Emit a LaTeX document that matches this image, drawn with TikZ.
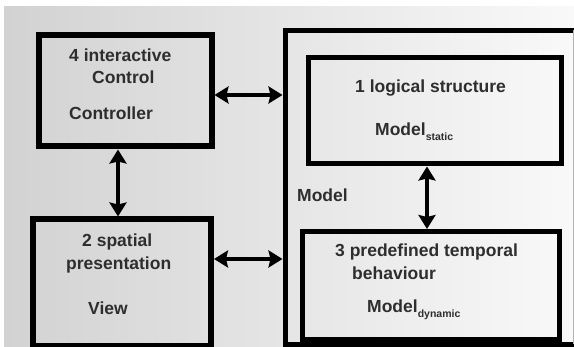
\documentclass[tikz,border=0pt]{standalone}
\usepackage{fontspec}
\setmainfont{Liberation Sans}
\usetikzlibrary{arrows.meta}
\definecolor{bgleft}{RGB}{210,210,210}
\definecolor{bgright}{RGB}{249,249,249}
\newcommand{\subtxt}[1]{\raisebox{-5pt}{\fontsize{10.5}{12}\selectfont #1}}
\begin{document}
\begin{tikzpicture}[x=1pt,y=-1pt,
  box/.style={draw=black, line width=#1, inner sep=0pt, anchor=north west},
  box/.default=5pt,
  link/.style={line width=4.5pt,
    {Stealth[length=14pt,width=17pt,inset=2pt]}-{Stealth[length=14pt,width=17pt,inset=2pt]}},
  lbl/.style={anchor=base west, inner sep=0pt, text=black!82,
    font=\fontsize{17.5}{20}\selectfont\bfseries},
]
\useasboundingbox (0,0) rectangle (574,347);
% background panel
\shade[left color=bgleft, right color=bgright] (4,7) rectangle (574,347);

% component boxes
\node[box=6pt, minimum width=172.5pt, minimum height=111pt] (ctrl) at (36,32.5) {};
\node[box=6pt, minimum width=178.5pt, minimum height=126.5pt] (view) at (29.5,216.5) {};
\node[box, minimum width=253pt, minimum height=106pt] (logic) at (305.5,55.5) {};
\node[box, minimum width=256.5pt, minimum height=108.5pt] (temporal) at (300,229) {};

% model frame (open towards the right edge)
\node[draw=none, inner sep=0pt, outer sep=0pt, anchor=north west,
      minimum width=288.5pt, minimum height=314pt] (model) at (285,30.5) {};
\draw[line width=5pt] (model.north east) -- (model.north west)
  -- (model.south west) -- (model.south east);
\draw[black!30, line width=2pt] (model.north east) -- (model.south east);

% connector guides
\coordinate (hc) at (0,95);
\coordinate (hv) at (0,259);
\coordinate (vl) at (118,0);
\coordinate (vr) at (427,0);

\draw[link] (ctrl.east |- hc) -- ([xshift=-2.5pt]model.west |- hc);
\draw[link] (view.east |- hv) -- ([xshift=-2.5pt]model.west |- hv);
\draw[link] (ctrl.south -| vl) -- (view.north -| vl);
\draw[link] (logic.south -| vr) -- (temporal.north -| vr);

% labels
\node[lbl] (c1) at (69,62) {4 interactive};
\node[lbl] (c2) at (92,84) {Control};
\node[lbl] (c3) at (69,120) {Controller};

\node[lbl] (v1) at (82,247) {2 spatial};
\node[lbl] (v2) at (66,270) {presentation};
\node[lbl] (v3) at (88,315) {View};

\node[lbl] (l1) at (355,93) {1 logical structure};
\node[lbl] (l2) at (375,136) {Model\subtxt{static}};

\node[lbl] (m1) at (297,202) {Model};

\node[lbl] (p1) at (335,257) {3 predefined temporal};
\node[lbl] (p2) at (352,280) {behaviour};
\node[lbl] (p3) at (367,313) {Model\subtxt{dynamic}};
\end{tikzpicture}
\end{document}
